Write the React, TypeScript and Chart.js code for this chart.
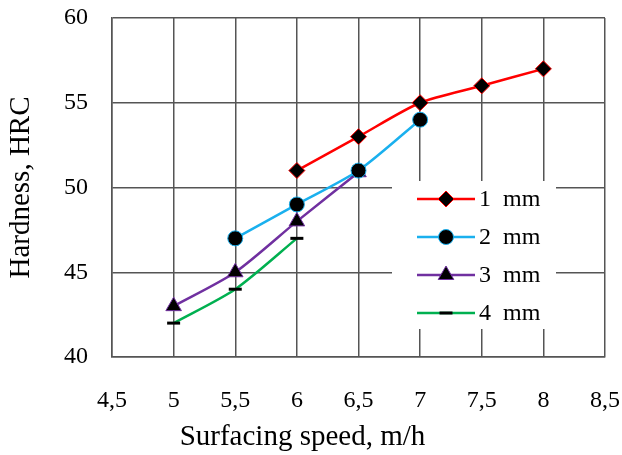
import React, { useEffect, useRef } from 'react';
import { Chart, registerables } from 'chart.js';

Chart.register(...registerables);

// ---- data ----
const seriesLabels = ['1  mm', '2  mm', '3  mm', '4  mm'];
const speeds1 = [6, 6.5, 7, 7.5, 8];
const hardness1 = [51, 53, 55, 56, 57];
const speeds2 = [5.5, 6, 6.5, 7];
const hardness2 = [47, 49, 51, 54];
const speeds3 = [5, 5.5, 6, 6.5];
const hardness3 = [43, 45, 48, 50.9];
const speeds4 = [5, 5.5, 6];
const hardness4 = [42, 44, 47];
const xMin = 4.5;
const xMax = 8.5;
const xStep = 0.5;
const yMin = 40;
const yMax = 60;
const yStep = 5;
const xTitle = 'Surfacing speed, m/h';
const yTitle = 'Hardness, HRC';

const FONT = '"Liberation Serif", "Times New Roman", serif';
const GRID = '#555555';

const toPoints = (xs: number[], ys: number[]) => xs.map((x, i) => ({ x, y: ys[i] }));

function drawMarker(ctx: CanvasRenderingContext2D, style: string, x: number, y: number, r: number, fill: string, stroke: string, bw: number) {
  ctx.save();
  ctx.beginPath();
  if (style === 'rectRot') {
    ctx.moveTo(x, y - r);
    ctx.lineTo(x + r, y);
    ctx.lineTo(x, y + r);
    ctx.lineTo(x - r, y);
    ctx.closePath();
  } else if (style === 'circle') {
    ctx.arc(x, y, r, 0, Math.PI * 2);
  } else if (style === 'triangle') {
    const s = Math.sin(Math.PI / 3) * r;
    ctx.moveTo(x, y - r);
    ctx.lineTo(x + s, y + r * 0.5);
    ctx.lineTo(x - s, y + r * 0.5);
    ctx.closePath();
  } else if (style === 'line') {
    ctx.moveTo(x - r, y);
    ctx.lineTo(x + r, y);
    ctx.strokeStyle = stroke;
    ctx.lineWidth = bw;
    ctx.stroke();
    ctx.restore();
    return;
  }
  ctx.fillStyle = fill;
  ctx.fill();
  ctx.strokeStyle = stroke;
  ctx.lineWidth = bw;
  ctx.stroke();
  ctx.restore();
}

const insideLegend = {
  id: 'insideLegend',
  beforeDatasetsDraw(chart: any) {
    const { ctx, chartArea } = chart;
    const left = chartArea.left + 280;
    const top = chartArea.top + 163;
    ctx.save();
    ctx.fillStyle = '#ffffff';
    ctx.fillRect(left, top, 164, 148);
    chart.data.datasets.forEach((ds: any, i: number) => {
      const cy = top + 18 + i * 38;
      ctx.beginPath();
      ctx.moveTo(left + 25, cy);
      ctx.lineTo(left + 83, cy);
      ctx.strokeStyle = ds.borderColor;
      ctx.lineWidth = ds.borderWidth;
      ctx.stroke();
      drawMarker(ctx, ds.pointStyle, left + 54, cy, ds.pointRadius, ds.pointBackgroundColor, ds.pointBorderColor, ds.pointBorderWidth);
      ctx.fillStyle = '#000000';
      ctx.font = `24px ${FONT}`;
      ctx.textAlign = 'left';
      ctx.textBaseline = 'middle';
      ctx.fillText(ds.label, left + 87, cy + 1);
    });
    ctx.restore();
  },
};

const noOverhang = (s: any) => {
  s.paddingTop = 0;
  s.paddingBottom = 0;
  s.paddingLeft = 0;
  s.paddingRight = 0;
};

export default function App() {
  const ref = useRef<HTMLCanvasElement | null>(null);
  useEffect(() => {
    if (!ref.current) return;
    const mk = (label: string, xs: number[], ys: number[], color: string, style: string, r: number, border?: string, bw = 1) => ({
      label,
      data: toPoints(xs, ys),
      borderColor: color,
      backgroundColor: color,
      borderWidth: 2.5,
      tension: 0.25,
      pointStyle: style,
      pointRadius: r,
      pointBackgroundColor: '#000000',
      pointBorderColor: border || color,
      pointBorderWidth: bw,
    });
    const chart = new Chart(ref.current, {
      type: 'line',
      data: {
        datasets: [
          mk(seriesLabels[0], speeds1, hardness1, '#ff0000', 'rectRot', 8),
          mk(seriesLabels[1], speeds2, hardness2, '#1ab0ee', 'circle', 7.5),
          mk(seriesLabels[2], speeds3, hardness3, '#7030a0', 'triangle', 9),
          mk(seriesLabels[3], speeds4, hardness4, '#00b050', 'line', 6.5, '#000000', 3),
        ] as any,
      },
      options: {
        responsive: false,
        animation: false,
        layout: { padding: { top: 18, right: 17, left: 0, bottom: 0 } },
        plugins: {
          legend: { display: false },
          tooltip: { enabled: false },
          title: {
            display: true,
            position: 'bottom',
            text: xTitle,
            color: '#000000',
            font: { family: FONT, size: 29, weight: 'normal' },
            padding: { top: 0, bottom: 0.6 },
          },
        },
        scales: {
          x: {
            type: 'linear',
            min: xMin,
            max: xMax,
            afterFit: (s: any) => { s.height = 62.6; noOverhang(s); },
            ticks: {
              stepSize: xStep,
              color: '#000000',
              font: { family: FONT, size: 24 },
              padding: 29,
              maxRotation: 0,
              callback: (v: any) => String(v).replace('.', ','),
            },
            grid: { color: GRID, lineWidth: 1.5, drawTicks: false },
            border: { color: GRID, width: 1.5 },
          },
          y: {
            type: 'linear',
            min: yMin,
            max: yMax,
            afterFit: (s: any) => { s.width = 112; noOverhang(s); },
            ticks: {
              stepSize: yStep,
              color: '#000000',
              font: { family: FONT, size: 24 },
              padding: 24,
            },
            grid: { color: GRID, lineWidth: 1.5, drawTicks: false },
            border: { color: GRID, width: 1.5 },
            title: {
              display: true,
              text: yTitle,
              color: '#000000',
              font: { family: FONT, size: 29 },
              padding: { top: 4, bottom: 0 },
            },
          },
        },
      },
      plugins: [insideLegend],
    });
    return () => chart.destroy();
  }, []);
  return (
    <div style={{ position: 'absolute', left: 0, top: 0, width: 622, height: 455, background: '#fff' }}>
      <canvas ref={ref} width={622} height={455} />
    </div>
  );
}
